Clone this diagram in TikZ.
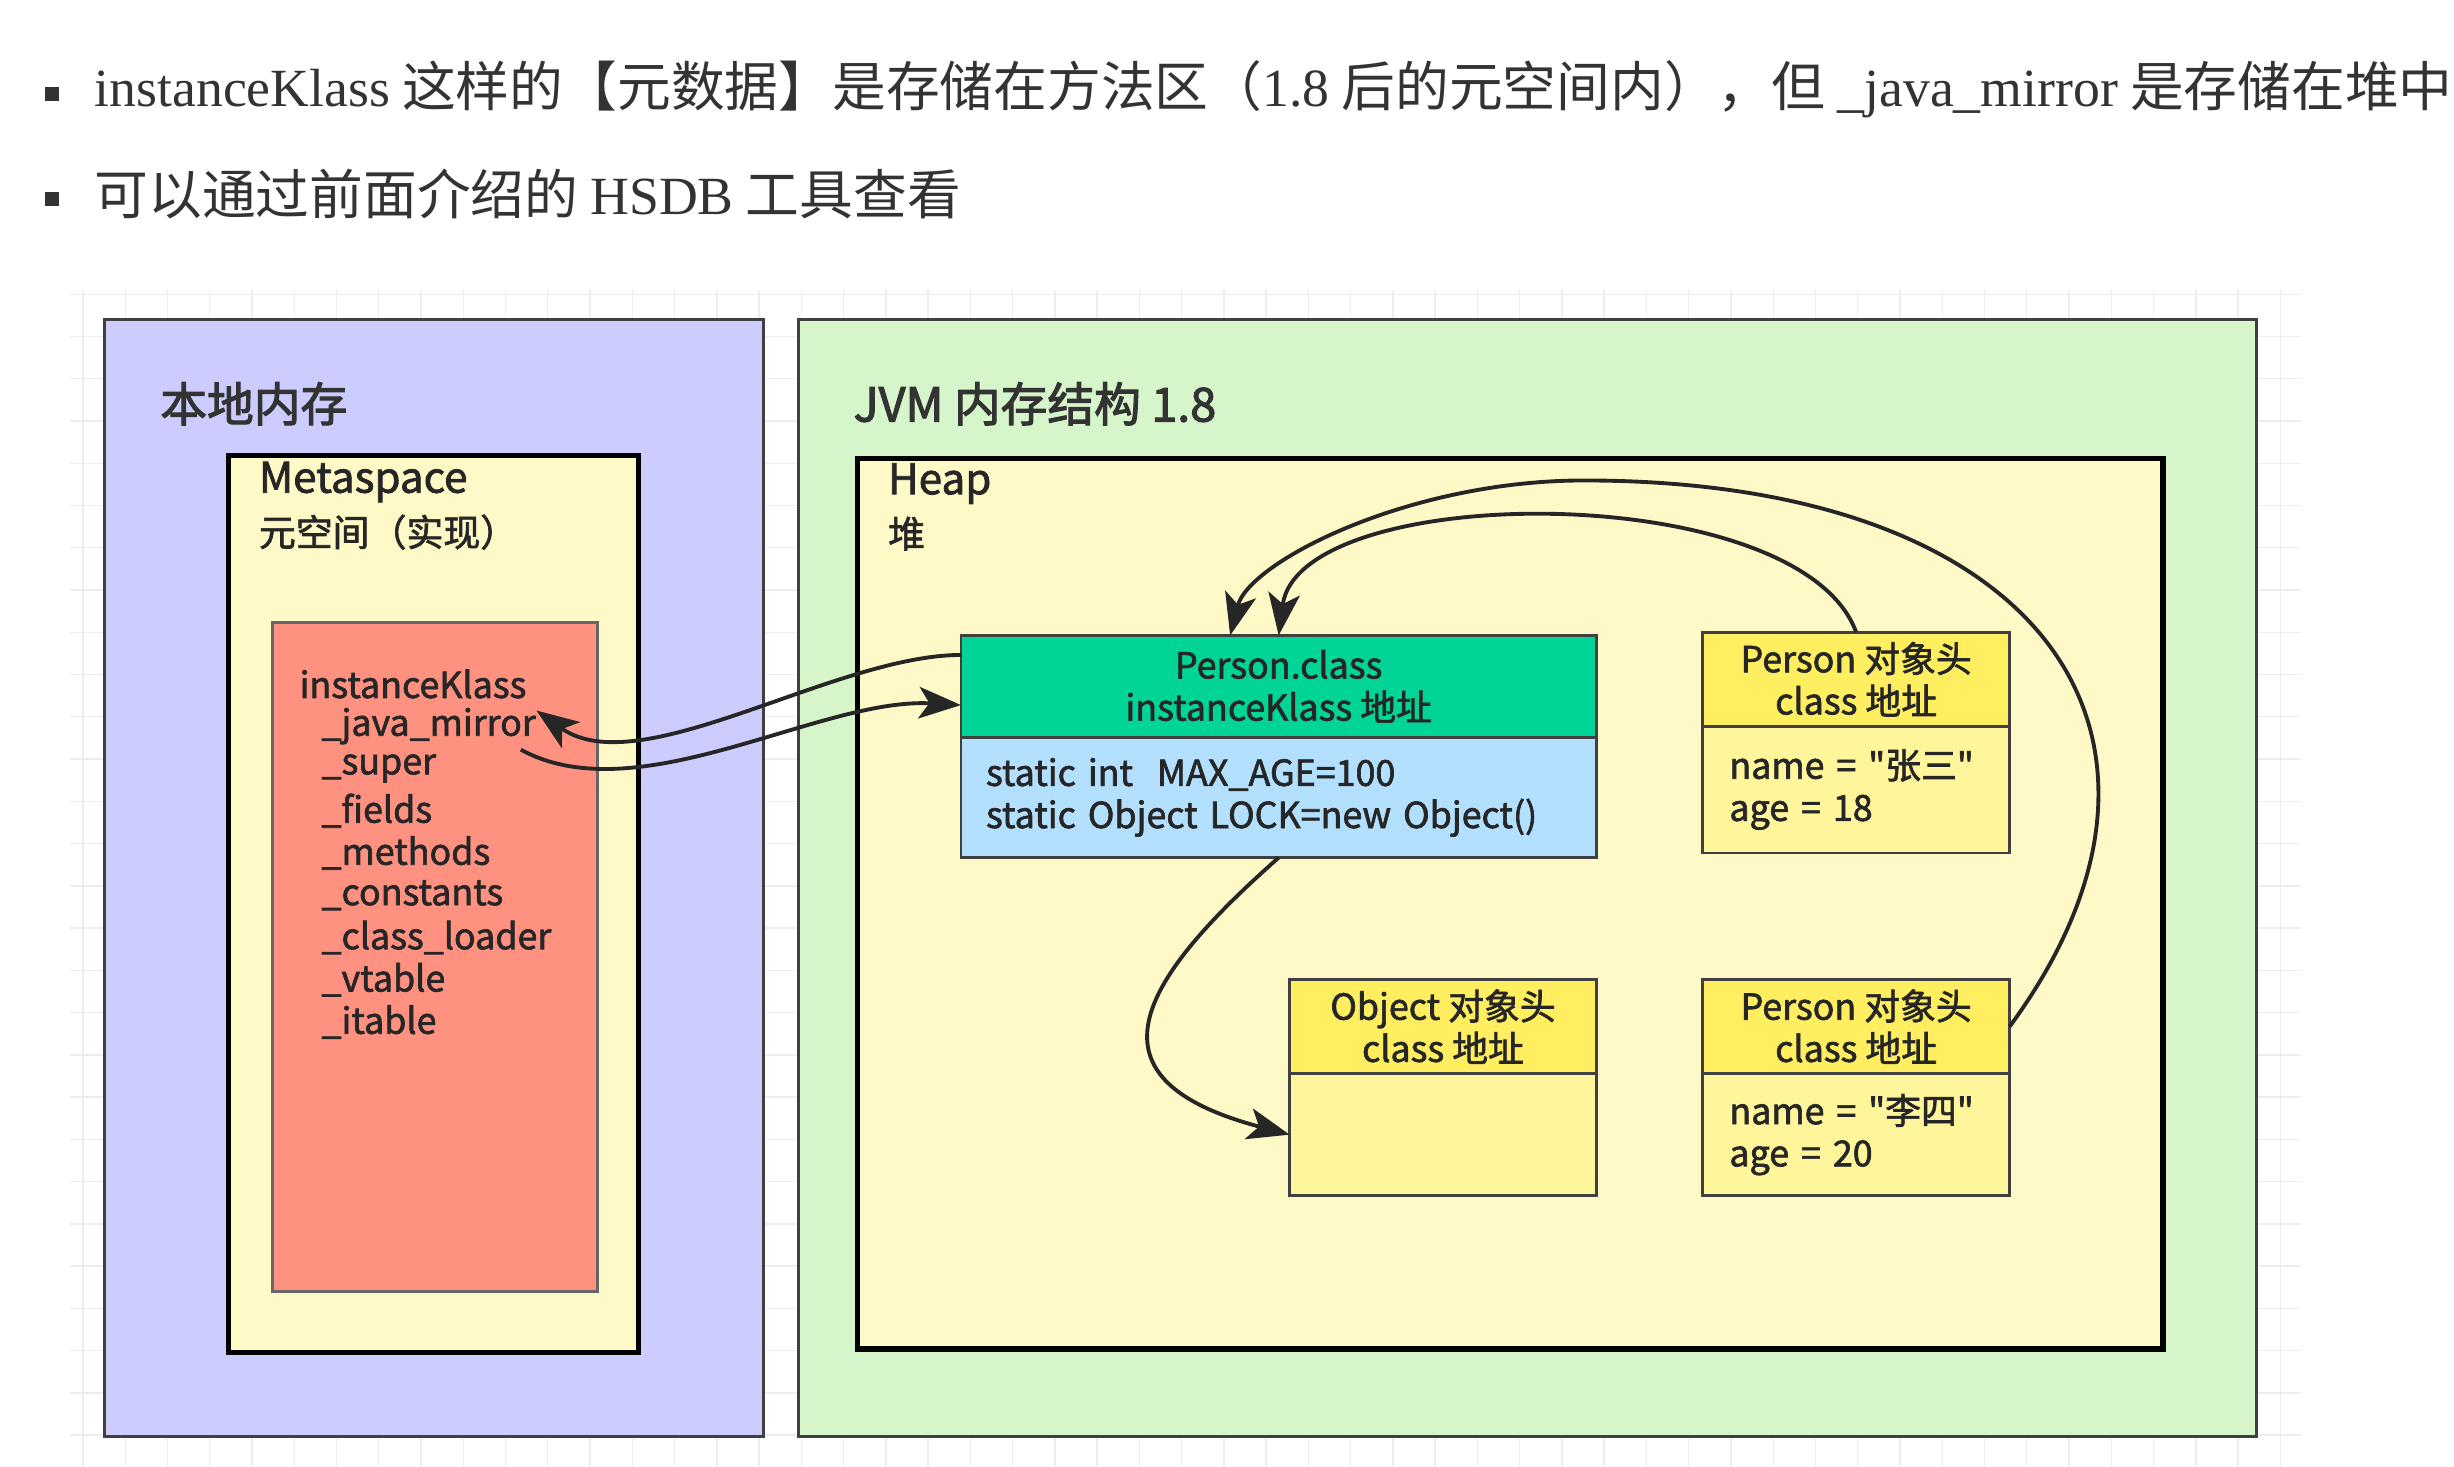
\documentclass[tikz,border=0pt]{standalone}
\usepackage{fontspec}
\setmainfont{Noto Sans CJK SC}
\newfontfamily\latinserif{Liberation Serif}
\newfontfamily\semib[FakeBold=1.8]{Noto Sans CJK SC}
\newfontfamily\boldf[FakeBold=2.4]{Noto Sans CJK SC}
\usetikzlibrary{positioning,calc,arrows.meta}
\newcommand{\px}{0.01565cm}
\definecolor{lavender_fill}{HTML}{CCCCFF}
\definecolor{jvm_fill}{HTML}{D6F5CA}
\definecolor{area_fill}{HTML}{FFF9C8}
\definecolor{klass_fill}{HTML}{FF9180}
\definecolor{green_head}{HTML}{00D496}
\definecolor{blue_body}{HTML}{B3E0FF}
\definecolor{obj_head_fill}{HTML}{FFEE60}
\definecolor{obj_body_fill}{HTML}{FFF59A}

\begin{document}
\begin{tikzpicture}[
        x=\px, y=-\px,
        grid_line/.style={draw=black!7, line width=0.4pt},
        bullet/.style={rectangle, fill=black!80, minimum size=9*\px, inner sep=0pt},
        line_text/.style={anchor=west, inner sep=0pt, text=black!80, font=\fontsize{15.3}{18}\selectfont},
        region/.style={draw=black!75, line width=0.8pt, anchor=north west, inner sep=0pt, outer sep=0pt},
        area/.style={draw=black, line width=1.5pt, fill=area_fill, anchor=north west, inner sep=0pt, outer sep=0pt},
        title_text/.style={anchor=west, inner sep=0pt, text=black!80, font=\boldf\fontsize{13.3}{15}\selectfont},
        sub_title/.style={anchor=west, inner sep=0pt, text=black!85, font=\semib\fontsize{12}{14}\selectfont},
        sub_text/.style={anchor=west, inner sep=0pt, text=black!85, font=\semib\fontsize{10.5}{12}\selectfont},
        field/.style={anchor=west, inner sep=0pt, text=black!85, font=\semib\fontsize{10.2}{12}\selectfont},
        head/.style={draw=black!75, line width=0.8pt, anchor=north west, align=center, inner sep=0pt, outer sep=0pt,
            text=black!85, font=\semib\fontsize{10.2}{12}\selectfont},
        body/.style={draw=black!75, line width=0.8pt, align=left, inner sep=0pt, outer sep=0pt,
            text=black!85, font=\semib\fontsize{10.2}{12}\selectfont},
        link/.style={draw=black!85, line width=1.1pt, -{Stealth[length=12pt, width=9pt, inset=3pt]}}
        ]
    \useasboundingbox (0,0) rectangle (1568,937);

    % faint grid of the drawing canvas
    \foreach \gx in {53,80,...,1470}
        \draw[grid_line] (\gx,185) -- (\gx,937);
    \foreach \gy in {188,215,...,937}
        \draw[grid_line] (45,\gy) -- (1470,\gy);

    % the two notes above the picture
    \node[bullet] (b1) at (33,60) {};
    \node[line_text] (note1) at (60,57) {{\latinserif instanceKlass} 这样的【元数据】是存储在方法区（{\latinserif 1.8} 后的元空间内），但 {\latinserif \_java\_mirror} 是存储在堆中};
    \node[bullet] (b2) at (33,127) {};
    \node[line_text] (note2) at (60,124) {可以通过前面介绍的 {\latinserif HSDB} 工具查看};

    % native memory
    \node[region, fill=lavender_fill, minimum width=421*\px, minimum height=714*\px] (native) at (67,204) {};
    \node[title_text] (native_t) at (102,258) {本地内存};
    \node[area, minimum width=262*\px, minimum height=573*\px] (meta) at (146,291) {};
    \node[sub_title] (meta_t) at (165,308) {Metaspace};
    \node[sub_text] (meta_s) at (165,340) {元空间（实现）};
    \node[region, fill=klass_fill, draw=black!60, minimum width=208*\px, minimum height=427*\px] (klass) at (174,398) {};
    \node[field] (klass_t) at (191,437) {instanceKlass};
    \node[field] (mirror) at (205,464) {\_java\_mirror};
    \foreach \f [count=\i from 2] in {super,fields,methods,constants,class\_loader,vtable,itable}
        \node[field] (f\i) at (205,437+27*\i) {\_\f};

    % jvm memory
    \node[region, fill=jvm_fill, minimum width=932*\px, minimum height=714*\px] (jvm) at (510,204) {};
    \node[title_text] (jvm_t) at (545,258) {JVM 内存结构 1.8};
    \node[area, minimum width=834*\px, minimum height=569*\px] (heap) at (548,293) {};
    \node[sub_title] (heap_t) at (567,309) {Heap};
    \node[sub_text] (heap_s) at (567,341) {堆};

    % class object and instances
    \node[head, fill=green_head, minimum width=406*\px, minimum height=65*\px] (pcls) at (614,406) {Person.class\\instanceKlass 地址};
    \node[body, fill=blue_body, text width=374*\px, inner xsep=16*\px, minimum height=77*\px, below=0pt of pcls] (pbody)
        {static int~~MAX\_AGE=100\\static Object LOCK=new Object()};
    \node[head, fill=obj_head_fill, minimum width=196*\px, minimum height=60*\px] (p1h) at (1088,404) {Person 对象头\\class 地址};
    \node[body, fill=obj_body_fill, text width=162*\px, inner xsep=17*\px, minimum height=81*\px, below=0pt of p1h] (p1b)
        {name = "张三"\\age = 18};
    \node[head, fill=obj_head_fill, minimum width=196*\px, minimum height=60*\px] (oh) at (824,626) {Object 对象头\\class 地址};
    \node[body, fill=obj_body_fill, text width=162*\px, inner xsep=17*\px, minimum height=78*\px, below=0pt of oh] (ob) {};
    \node[head, fill=obj_head_fill, minimum width=196*\px, minimum height=60*\px] (p2h) at (1088,626) {Person 对象头\\class 地址};
    \node[body, fill=obj_body_fill, text width=162*\px, inner xsep=17*\px, minimum height=78*\px, below=0pt of p2h] (p2b)
        {name = "李四"\\age = 20};

    % connectors
    \coordinate (loop_top) at (1012,307);
    \draw[link] ($(pcls.west)+(0,-20)$) .. controls +(-81,0) and +(66,47) .. ($(mirror.east)+(0,-10)$);
    \draw[link] ($(mirror.east)+(-10,15)$) .. controls +(75,41) and +(-90,-5) .. ($(pcls.west)+(0,12)$);
    \draw[link] (pbody.south) .. controls +(-93,82) and +(-132,-35) .. (ob.west);
    \draw[link] (p1h.north) .. controls +(-36,-99) and +(13,-99) .. (pcls.north);
    \draw[link] (p2h.east) .. controls +(134,-182) and +(298,0) .. (loop_top)
        .. controls +(-112,0) and +(12,-47) .. ($(pcls.north)+(-31,0)$);
\end{tikzpicture}
\end{document}
